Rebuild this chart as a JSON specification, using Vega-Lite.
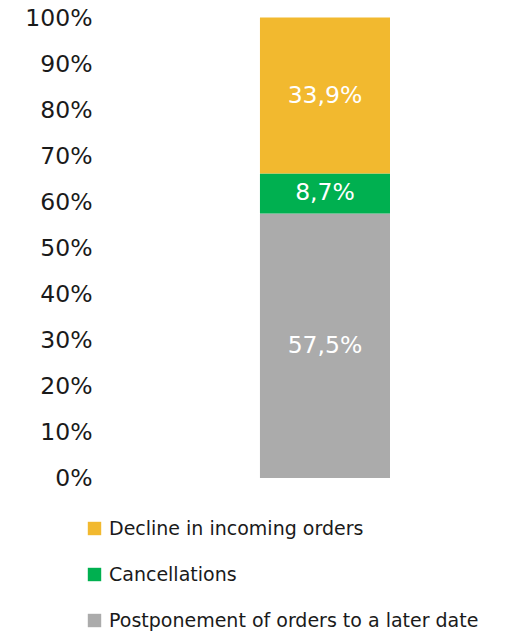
{
  "$schema": "https://vega.github.io/schema/vega-lite/v6.json",
  "width": 290,
  "height": 460,
  "autosize": {"type": "none"},
  "padding": {"left": 100, "top": 18, "right": 116, "bottom": 153},
  "config": {
    "view": {"stroke": null},
    "locale": {"number": {"decimal": ",", "thousands": ".", "grouping": [3], "currency": ["", " €"]}},
    "font": "DejaVu Sans"
  },
  "data": {
    "values": [
      {"group": "Total", "category": "Postponement of orders to a later date", "value": 0.575, "order": 1},
      {"group": "Total", "category": "Cancellations", "value": 0.087, "order": 2},
      {"group": "Total", "category": "Decline in incoming orders", "value": 0.339, "order": 3}
    ]
  },
  "transform": [
    {"stack": "value", "groupby": ["group"], "sort": [{"field": "order"}], "as": ["y0", "y1"]},
    {"calculate": "(datum.y0 + datum.y1) / 2", "as": "ymid"}
  ],
  "encoding": {
    "x": {
      "field": "group",
      "type": "nominal",
      "axis": null,
      "scale": {"paddingInner": 0, "paddingOuter": 0.615, "align": 1}
    }
  },
  "layer": [
    {
      "mark": {"type": "bar"},
      "encoding": {
        "y": {
          "field": "y0",
          "type": "quantitative",
          "scale": {"domain": [0, 1], "nice": false},
          "axis": {
            "values": [0, 0.1, 0.2, 0.3, 0.4, 0.5, 0.6, 0.7, 0.8, 0.9, 1],
            "format": ".0%",
            "domain": false,
            "ticks": false,
            "grid": false,
            "labelFont": "DejaVu Sans",
            "labelFontSize": 23.5,
            "labelColor": "#1a1a1a",
            "labelPadding": 8,
            "title": null
          }
        },
        "y2": {"field": "y1"},
        "color": {
          "field": "category",
          "type": "nominal",
          "scale": {
            "domain": ["Decline in incoming orders", "Cancellations", "Postponement of orders to a later date"],
            "range": ["#F2B92F", "#00B050", "#ABABAB"]
          },
          "legend": {
            "title": null,
            "orient": "none",
            "legendX": -15,
            "legendY": 501,
            "direction": "vertical",
            "symbolType": "square",
            "symbolSize": 180,
            "symbolStrokeWidth": 0,
            "symbolOpacity": 1,
            "labelFont": "DejaVu Sans",
            "labelFontSize": 19,
            "labelColor": "#1a1a1a",
            "labelOffset": 5,
            "labelLimit": 500,
            "rowPadding": 26,
            "padding": 0
          }
        }
      }
    },
    {
      "mark": {"type": "text", "color": "white", "fontSize": 23.5, "font": "DejaVu Sans", "baseline": "middle"},
      "encoding": {
        "y": {"field": "ymid", "type": "quantitative"},
        "text": {"field": "value", "type": "quantitative", "format": ".1%"}
      }
    }
  ]
}
